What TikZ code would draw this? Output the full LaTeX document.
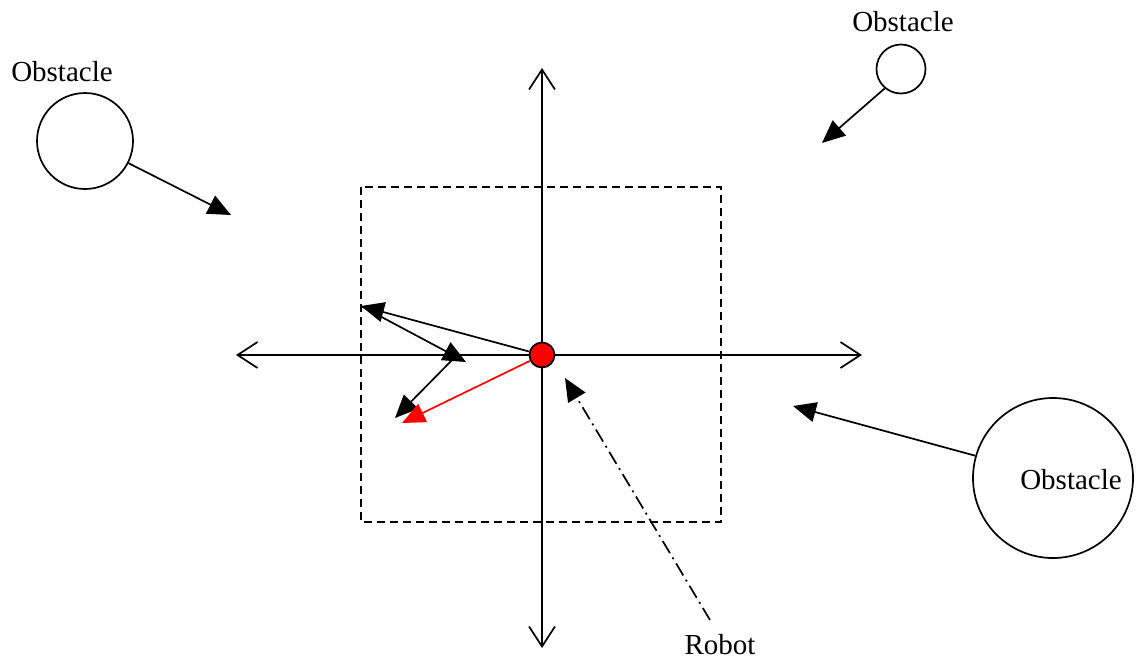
\documentclass[tikz,border=0pt]{standalone}
\usepackage{fontspec}
\setmainfont{Liberation Serif}
\usetikzlibrary{arrows.meta}
\begin{document}
\begin{tikzpicture}[x=1pt,y=-1pt,
  every node/.style={font=\fontsize{29}{34}\selectfont},
  ln/.style={line width=1.7pt},
  obst/.style={circle,draw,line width=1.7pt,inner sep=0pt},
  tri/.style={ln,-{Triangle[length=23pt,width=20pt]}},
  axis/.style={ln,{Straight Barb[length=20pt,width=26pt,line width=1.7pt]}-{Straight Barb[length=20pt,width=26pt,line width=1.7pt]}},
  lbl/.style={inner sep=0pt}]
\useasboundingbox (0,0) rectangle (1138,662);
% axes
\coordinate (yt) at (542,68);
\coordinate (yb) at (542,648);
\coordinate (xl) at (236,355);
\coordinate (xr) at (862,355);
\draw[axis] (yt) -- (yb);
\draw[axis] (xl) -- (xr);
% dashed window
\draw[ln,dash pattern=on 8pt off 5pt] (361,187) rectangle (721,522);
% obstacles
\node[obst,minimum size=96pt] (o1) at (85,141) {};
\node[lbl] (l1) at (62,72) {Obstacle};
\node[obst,minimum size=49pt] (o2) at (901,69) {};
\node[lbl] (l2) at (903,22) {Obstacle};
\node[obst,minimum size=160pt] (o3) at (1053,478) {};
\node[lbl] (l3) at (1071,480) {Obstacle};
% force targets
\coordinate (f1) at (231,215);
\coordinate (f2) at (822,143);
\coordinate (f3) at (793,406);
\draw[tri] (o1.-27) -- (f1);
\draw[tri] (o2.-130) -- (f2);
\draw[tri] (o3.164) -- (f3);
% robot
\node[circle,draw,fill=red,line width=1.7pt,minimum size=25pt,inner sep=0pt] (r) at (542,355) {};
\node[lbl] (rl) at (720,645) {Robot};
\coordinate (rs) at (710,620);
\coordinate (rt) at (565,378);
\draw[tri,dash pattern=on 14pt off 5pt on 2pt off 5pt] (rs) -- (rt);
% vectors
\coordinate (a) at (361,306);
\coordinate (b) at (466,362);
\coordinate (c) at (395,418);
\coordinate (d) at (402,423);
\draw[tri] (r) -- (a);
\draw[tri] (a) -- (b);
\draw[tri] (458,354) -- (c);
\draw[tri,red] (r) -- (d);
\end{tikzpicture}
\end{document}
